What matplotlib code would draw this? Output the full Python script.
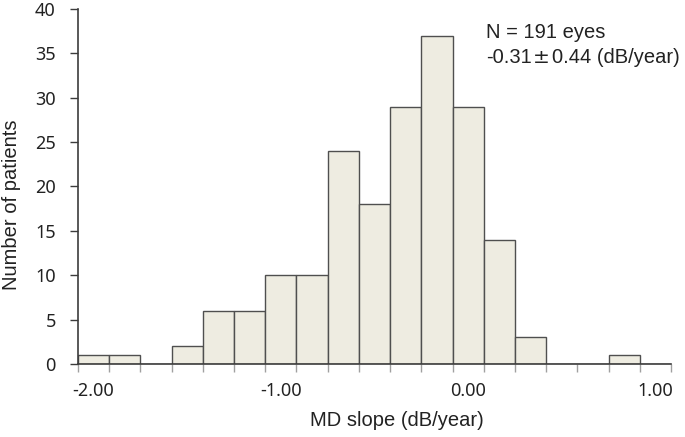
import numpy as np
import matplotlib
matplotlib.use("Agg")
import matplotlib.pyplot as plt

# histogram of MD slope, Excel-style category bins (width 1/6 dB/year)
bin_labels = ["-2.00", "-1.83", "-1.67", "-1.50", "-1.33", "-1.17",
              "-1.00", "-0.83", "-0.67", "-0.50", "-0.33", "-0.17",
              "0.00", "0.17", "0.33", "0.50", "0.67", "0.83", "1.00"]
counts = [1, 1, 0, 2, 6, 6, 10, 10, 24, 18, 29, 37, 29, 14, 3, 0, 0, 1, 0]
shown_labels = ["-2.00", "-1.00", "0.00", "1.00"]
y_ticks = [0, 5, 10, 15, 20, 25, 30, 35, 40]
n_eyes = 191
mean_slope, sd_slope = -0.31, 0.44

FILL = "#EEECE1"
EDGE = "#4f4f4f"
AXC = "#3c3c3c"
TXT = "#222222"

fig = plt.figure(figsize=(6.85, 4.37), dpi=100)
ax = fig.add_axes([78 / 685, 1 - 364 / 437, (671 - 78) / 685, (364 - 9) / 437])

x = np.arange(len(counts))
ax.bar(x, counts, width=1.0, color=FILL, edgecolor=EDGE, linewidth=1.0, zorder=2)

ax.set_xlim(-0.5, len(counts) - 0.5)
ax.set_ylim(0, 40)
for s in ("top", "right"):
    ax.spines[s].set_visible(False)
for s in ("left", "bottom"):
    ax.spines[s].set_color(AXC)
    ax.spines[s].set_linewidth(1.2)

# tick marks at every bin edge, labels only on every 6th bin centre
ax.set_xticks(np.arange(len(counts) + 1) - 0.5)
ax.set_xticklabels([])
ax.tick_params(axis="x", which="major", length=6, width=1.0, color="#a0a0a0", direction="out")
lab_pos = [bin_labels.index(l) for l in shown_labels]
ax.set_xticks(lab_pos, minor=True)
ax.set_xticklabels(shown_labels, minor=True, fontfamily="Noto Sans", fontsize=13, color=TXT)
ax.tick_params(axis="x", which="minor", length=0, pad=13)

ax.set_yticks(y_ticks)
ax.set_yticklabels([str(v) for v in y_ticks], fontfamily="Noto Sans", fontsize=13, color=TXT)
ax.tick_params(axis="y", length=5.5, width=1.0, color=AXC, pad=10.5)

fig.text(12 / 685, 1 - 205 / 437, "Number of patients", rotation=90, ha="center", va="center",
         fontfamily="Liberation Sans", fontsize=14.5, color=TXT)
fig.text(397 / 685, 1 - 421 / 437, "MD slope (dB/year)", ha="center", va="center",
         fontfamily="Liberation Sans", fontsize=14.5, color=TXT)

# stats box: N and mean±SD, the ± drawn in a wider glyph like the original
fig.text(486 / 685, 1 - 38 / 437, f"N = {n_eyes} eyes", ha="left", va="baseline",
         fontfamily="Liberation Sans", fontsize=14.5, color=TXT)
r = fig.canvas.get_renderer()
W = fig.bbox.width
yb = 1 - 63 / 437
t = fig.text(486 / 685, yb, f"{mean_slope:.2f}", ha="left", va="baseline",
             fontfamily="Liberation Sans", fontsize=14.5, color=TXT)
x1 = t.get_window_extent(r).x1
t = fig.text((x1 + 1) / W, yb, "\u00b1", ha="left", va="baseline",
             fontfamily="DejaVu Sans", fontsize=14.5, color=TXT)
x1 = t.get_window_extent(r).x1
fig.text((x1 + 2) / W, yb, f"{sd_slope:.2f} (dB/year)", ha="left", va="baseline",
         fontfamily="Liberation Sans", fontsize=14.5, color=TXT)

fig.savefig("out.png", dpi=100)
